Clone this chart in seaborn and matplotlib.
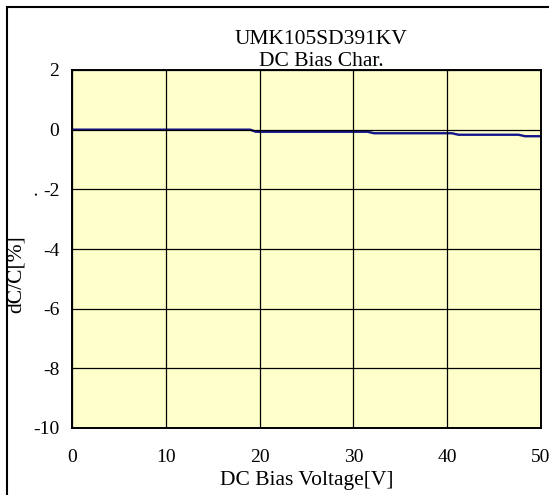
import matplotlib
matplotlib.use("Agg")
import matplotlib.pyplot as plt
import seaborn as sns
import pandas as pd
from matplotlib.patches import Rectangle

# Data
voltage = [0, 19.0, 19.6, 31.5, 32.2, 40.5, 41.2, 47.6, 48.3, 50]
dcc = [0, 0, -0.07, -0.07, -0.12, -0.12, -0.17, -0.17, -0.22, -0.22]

x_ticks = [0, 10, 20, 30, 40, 50]
y_ticks = [2, 0, -2, -4, -6, -8, -10]

df = pd.DataFrame({"voltage": voltage, "dcc": dcc})

sns.set_style("white")
plt.rcParams["font.family"] = ["Liberation Serif", "DejaVu Serif"]
plt.rcParams["axes.unicode_minus"] = False
plt.rcParams["text.color"] = "black"
plt.rcParams["axes.labelcolor"] = "black"
plt.rcParams["xtick.color"] = "black"
plt.rcParams["ytick.color"] = "black"

W, H = 549, 495
fig = plt.figure(figsize=(W / 100, H / 100), dpi=100)
ax = fig.add_axes([72 / W, 1 - 428 / H, 469 / W, 358 / H])

# outer frame (chart area runs past the right and bottom edges)
fig.patches.append(Rectangle((7 / W, -0.1), 1.2, 1 - 7 / H + 0.1,
                             transform=fig.transFigure, fill=False,
                             edgecolor="black", linewidth=1.5))

ax.set_facecolor("#FFFFCC")

sns.lineplot(data=df, x="voltage", y="dcc", ax=ax, color="#14148c",
             linewidth=1.7)

ax.set_xlim(0, 50)
ax.set_ylim(-10, 2)
ax.set_xticks(x_ticks)
ax.set_yticks(y_ticks)
ax.grid(True, color="black", linewidth=0.9)
ax.set_axisbelow(False)
for s in ax.spines.values():
    s.set_color("black")
    s.set_linewidth(1.4)

ax.tick_params(axis="x", length=0, pad=15, labelsize=14)
ax.tick_params(axis="y", length=0, pad=9, labelsize=14)

ax.set_xlabel("DC Bias Voltage[V]", fontsize=15.5, labelpad=4)
ax.set_ylabel("dC/C[%]", fontsize=15.5)
ax.yaxis.set_label_coords(-0.098, 0.43)

# title is centred on the chart area, not on the plot area
fig.text(321 / W, 1 - 40 / H, "UMK105SD391KV", fontsize=15.5,
         ha="center", va="center")
fig.text(321 / W, 1 - 61 / H, "DC Bias Char.", fontsize=15.5,
         ha="center", va="center")

fig.text(32 / W, 1 - 193 / H, ".", rotation=90, fontsize=14,
         ha="center", va="center")

plt.savefig("out.png", dpi=100)
